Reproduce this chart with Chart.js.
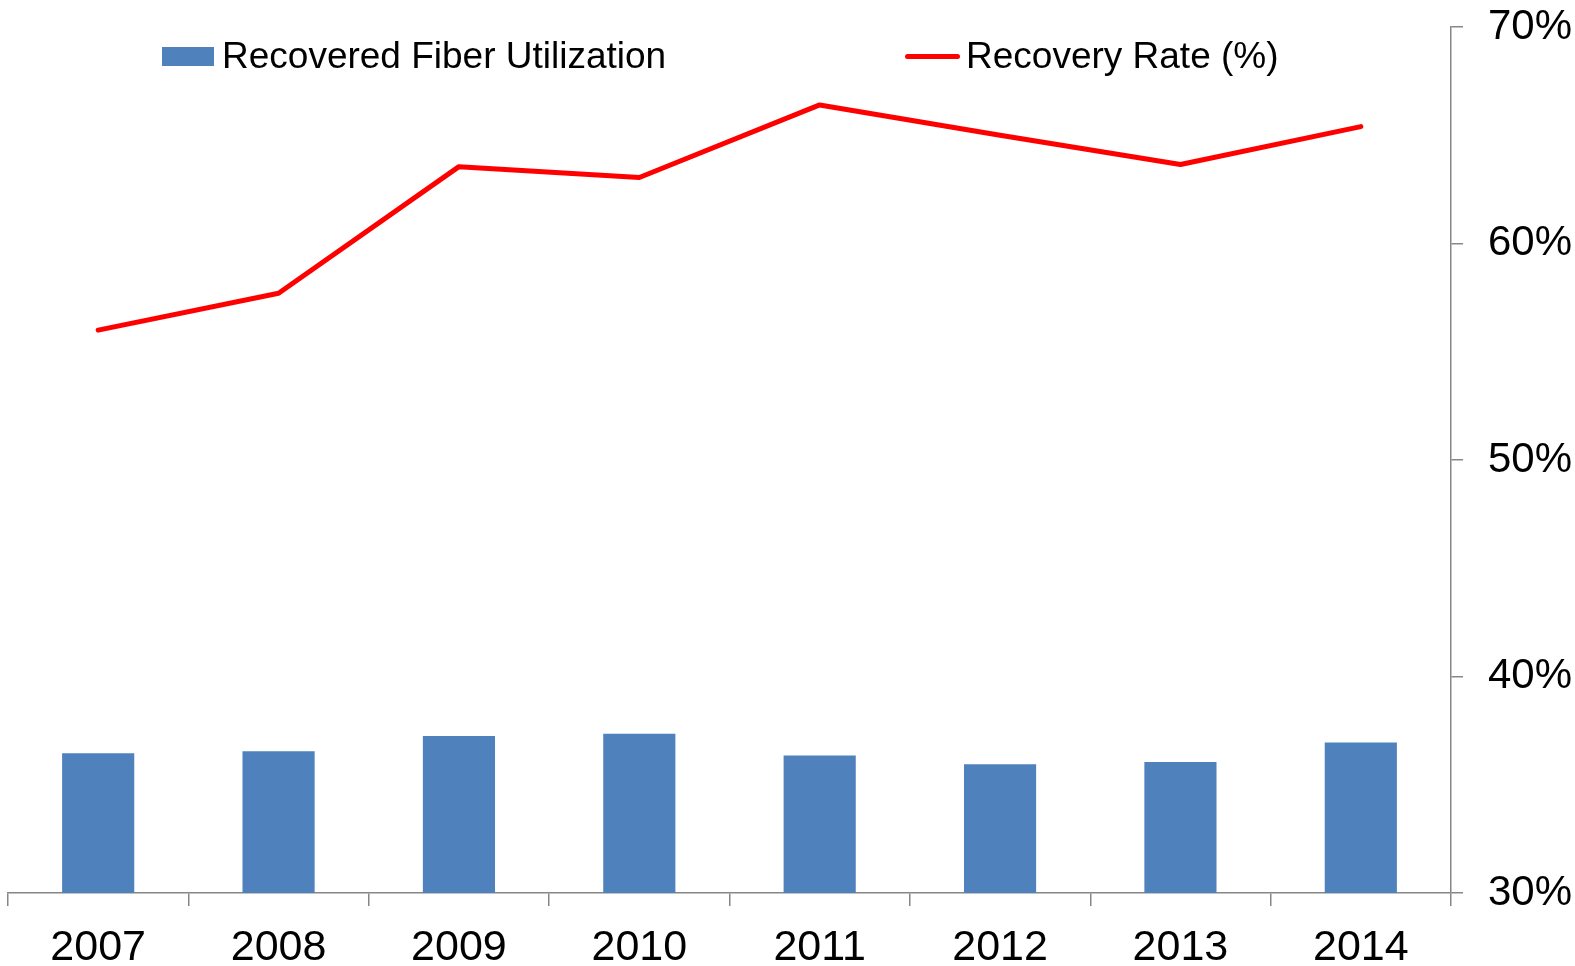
<!DOCTYPE html>
<html lang="en">
<head>
    <meta charset="UTF-8">
    <title>Recovered Fiber Utilization and Recovery Rate</title>
    <script src="https://cdn.jsdelivr.net/npm/chart.js"></script>
    <style>
        body {
            margin: 0;
            background: #fff;
            font-family: 'Liberation Sans', Arial, sans-serif;
        }

        .wrap {
            position: relative;
            width: 1575px;
            height: 966px;
        }

        .legend-item {
            position: absolute;
            top: 34px;
            height: 44px;
            display: flex;
            align-items: center;
            font-size: 37px;
            color: #000;
            white-space: nowrap;
        }

        .legend-item .swatch {
            display: inline-block;
            margin-right: 8px;
        }
    </style>
</head>
<body>
    <div class="wrap">
        <canvas id="chart" width="1575" height="966"></canvas>
        <div id="legend"></div>
    </div>

    <script>
        const years = ['2007', '2008', '2009', '2010', '2011', '2012', '2013', '2014'];
        const fiberUtilization = [36.45, 36.55, 37.25, 37.35, 36.35, 35.95, 36.05, 36.95];
        const recoveryRate = [56.0, 57.7, 63.55, 63.05, 66.4, 65.0, 63.65, 65.4];
        const yTicks = [30, 40, 50, 60, 70];

        const axisGray = '#868686';

        Chart.defaults.font.family = "'Liberation Sans', Arial, sans-serif";
        Chart.defaults.color = '#000';

        const ctx = document.getElementById('chart').getContext('2d');

        const chart = new Chart(ctx, {
            type: 'bar',
            data: {
                labels: years,
                datasets: [{
                    label: 'Recovered Fiber Utilization',
                    data: fiberUtilization,
                    backgroundColor: '#4F81BD',
                    borderWidth: 0,
                    categoryPercentage: 1,
                    barPercentage: 0.4,
                    order: 2
                }, {
                    type: 'line',
                    label: 'Recovery Rate (%)',
                    data: recoveryRate,
                    borderColor: '#FF0000',
                    backgroundColor: '#FF0000',
                    borderWidth: 5,
                    borderCapStyle: 'round',
                    borderJoinStyle: 'round',
                    pointRadius: 0,
                    tension: 0,
                    order: 1
                }]
            },
            options: {
                responsive: false,
                animation: false,
                layout: {
                    padding: { left: 8, top: 27, right: 0, bottom: 0 }
                },
                plugins: {
                    legend: { display: false },
                    tooltip: { enabled: false }
                },
                scales: {
                    x: {
                        offset: true,
                        grid: {
                            offset: true,
                            drawOnChartArea: false,
                            tickLength: 13,
                            color: axisGray,
                            lineWidth: 1.5
                        },
                        border: { display: true, color: axisGray, width: 1.5 },
                        ticks: {
                            font: { size: 43 },
                            padding: 16,
                            maxRotation: 0
                        },
                        afterFit: (scale) => { scale.height = 73; }
                    },
                    y: {
                        position: 'right',
                        min: 30,
                        max: 70,
                        afterBuildTicks: (scale) => {
                            scale.ticks = yTicks.map(v => ({ value: v }));
                        },
                        grid: {
                            drawOnChartArea: false,
                            tickLength: 12,
                            color: axisGray,
                            lineWidth: 1.5
                        },
                        border: { display: true, color: axisGray, width: 1.5 },
                        ticks: {
                            font: { size: 42 },
                            padding: 25,
                            callback: (v) => v + '%'
                        },
                        afterFit: (scale) => {
                            scale.width = 124;
                            // label padding would otherwise push the plot area down
                            scale.paddingTop = 0;
                            scale.paddingBottom = 0;
                        }
                    }
                }
            }
        });

        // html legend, built from the chart's own legend items
        const legendLeft = [162, 905];
        const legendEl = document.getElementById('legend');
        const items = Chart.defaults.plugins.legend.labels.generateLabels(chart);
        items.forEach((item) => {
            const div = document.createElement('div');
            div.className = 'legend-item';
            div.style.left = legendLeft[item.datasetIndex] + 'px';
            const sw = document.createElement('span');
            sw.className = 'swatch';
            if (chart.data.datasets[item.datasetIndex].type === 'line') {
                sw.style.width = '55px';
                sw.style.height = '5px';
                sw.style.borderRadius = '2.5px';
                sw.style.background = item.strokeStyle;
                sw.style.marginRight = '6px';
            } else {
                sw.style.width = '52px';
                sw.style.height = '19px';
                sw.style.background = item.fillStyle;
            }
            div.appendChild(sw);
            div.appendChild(document.createTextNode(item.text));
            legendEl.appendChild(div);
        });
    </script>
</body>
</html>
